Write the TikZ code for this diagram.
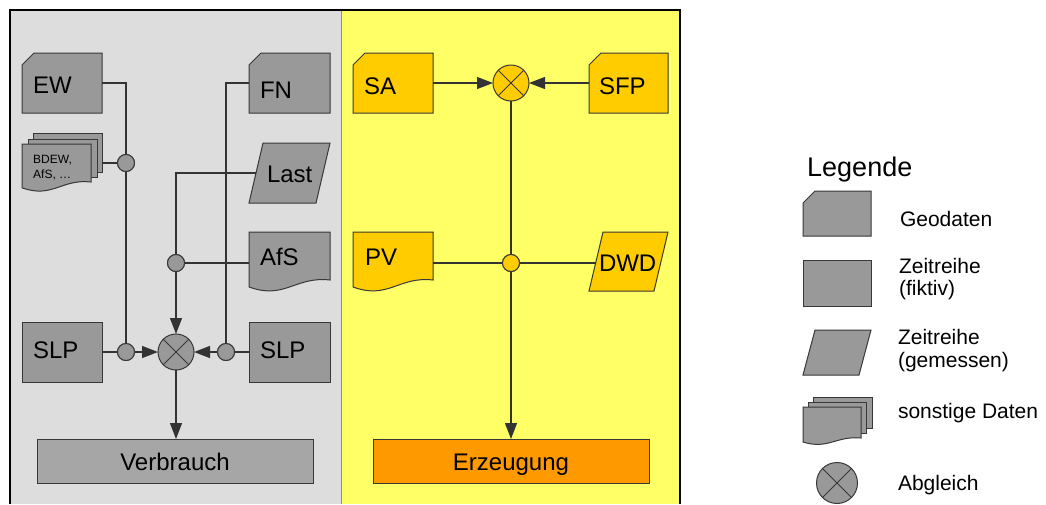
\documentclass[tikz,border=0pt]{standalone}
\usepackage{fontspec}
\setmainfont{Liberation Sans}
\usetikzlibrary{arrows.meta,calc}
\definecolor{panelgray}{HTML}{DDDDDD}
\definecolor{panelyellow}{HTML}{FFFF66}
\definecolor{shapegray}{HTML}{999999}
\definecolor{verbgray}{HTML}{A6A6A6}
\definecolor{shapeyellow}{HTML}{FFCC00}
\definecolor{erzorange}{HTML}{FF9900}
\definecolor{linecol}{HTML}{333333}
\definecolor{shapeline}{HTML}{383838}
\definecolor{sepgray}{HTML}{8C8C8C}
\newcommand{\geodata}[2]{%
  \filldraw[shp,fill=#2] (#1.south west) -- ($(#1.north west)+(0,12)$) -- ($(#1.north west)+(12,0)$) -- (#1.north east) -- (#1.south east) -- cycle;}
\newcommand{\docshape}[3]{%
  \filldraw[shp,fill=#2] (#1.north west) -- (#1.north east) -- (#1.south east)
    .. controls ($(#1.south east)!0.43!(#1.south west)+(0,-0.33*#3)$) and ($(#1.south west)!0.44!(#1.south east)+(0,1.67*#3)$) .. ($(#1.south west)+(0,0.58*#3)$) -- cycle;}
\newcommand{\paragram}[3]{%
  \filldraw[shp,fill=#2] (#1.south west) -- ($(#1.north west)+(#3,0)$) -- (#1.north east) -- ($(#1.south east)+(-#3,0)$) -- cycle;}
\begin{document}
\begin{tikzpicture}[x=1pt,y=-1pt,
  box/.style n args={2}{rectangle,inner sep=0pt,outer sep=0pt,minimum width=#1,minimum height=#2},
  shp/.style={draw=shapeline,line width=1pt},
  lbl/.style={inner sep=0pt,outer sep=0pt,anchor=base west,font=\fontsize{24}{28}\selectfont},
  lblc/.style={inner sep=0pt,outer sep=0pt,anchor=base,font=\fontsize{24}{28}\selectfont},
  leg/.style={inner sep=0pt,outer sep=0pt,anchor=base west,font=\fontsize{21}{24}\selectfont},
  conn/.style={draw=linecol,line width=1.2pt},
  arr/.style={conn,-{Triangle[length=16pt,width=12pt]}},
  junc/.style={circle,draw=shapeline,line width=1pt,minimum size=17pt,inner sep=0pt,outer sep=0pt},
  abg/.style={circle,draw=shapeline,line width=1pt,minimum size=36pt,inner sep=0pt,outer sep=0pt,
    path picture={\draw[draw=shapeline,line width=1pt]
      ($(path picture bounding box.north east)!0.1464!(path picture bounding box.south west)$) --
      ($(path picture bounding box.south west)!0.1464!(path picture bounding box.north east)$)
      ($(path picture bounding box.north west)!0.1464!(path picture bounding box.south east)$) --
      ($(path picture bounding box.south east)!0.1464!(path picture bounding box.north west)$);}},
]
\useasboundingbox (0,0) rectangle (1046,504);
\fill[white] (0,0) rectangle (1046,504);
% panels
\fill[panelgray] (10,10) rectangle (341,504);
\fill[panelyellow] (341,10) rectangle (680,504);
\draw[sepgray,line width=1.5pt] (341.5,10) -- (341.5,504);
\draw[black,line width=1.5pt] (10,504) -- (10,10) -- (680,10) -- (680,504);

% ---------- left panel shapes ----------
\node[box={80pt}{60pt}] (EW) at (62,83) {};
\geodata{EW}{shapegray}
\node[lbl] (EWt) at (33,93) {EW};

\node[box={69pt}{39pt}] (BDEWb) at (67.5,152.5) {};
\filldraw[shp,fill=shapegray] (BDEWb.north west) rectangle (BDEWb.south east);
\node[box={69pt}{38pt}] (BDEWm) at (62.5,158) {};
\filldraw[shp,fill=shapegray] (BDEWm.north west) rectangle (BDEWm.south east);
\node[box={69pt}{38pt}] (BDEW) at (56.5,163) {};
\docshape{BDEW}{shapegray}{10}
\node[inner sep=0pt,anchor=base west,font=\fontsize{12}{15}\selectfont] (BDEWt1) at (33,163) {BDEW,};
\node[inner sep=0pt,anchor=base west,font=\fontsize{12}{15}\selectfont] (BDEWt2) at (33,178) {AfS, …};

\node[box={81pt}{60pt}] (FN) at (289.5,83) {};
\geodata{FN}{shapegray}
\node[lbl] (FNt) at (260,98) {FN};

\node[box={81pt}{60pt}] (Last) at (289.5,173) {};
\paragram{Last}{shapegray}{14}
\node[lbl] (Lastt) at (267,182) {Last};
\coordinate (Lastin) at ($(Last.west)+(7,0)$);

\node[box={81pt}{48pt}] (AfS) at (289.5,256) {};
\docshape{AfS}{shapegray}{12}
\node[lbl] (AfSt) at (260,265) {AfS};

\node[box={80pt}{60pt}] (SLP1) at (62,352) {};
\filldraw[shp,fill=shapegray] (SLP1.north west) rectangle (SLP1.south east);
\node[lbl] (SLP1t) at (33,358) {SLP};

\node[box={81pt}{60pt}] (SLP2) at (289.5,352) {};
\filldraw[shp,fill=shapegray] (SLP2.north west) rectangle (SLP2.south east);
\node[lbl] (SLP2t) at (260,358) {SLP};

\node[box={276pt}{44pt},draw=shapeline,line width=1pt,fill=verbgray] (Verb) at (175,461) {};
\node[lblc] (Verbt) at (175,470) {Verbrauch};

% ---------- right panel shapes ----------
\node[box={80pt}{60pt}] (SA) at (393,83) {};
\geodata{SA}{shapeyellow}
\node[lbl] (SAt) at (364,94) {SA};

\node[box={79pt}{60pt}] (SFP) at (628.5,83) {};
\geodata{SFP}{shapeyellow}
\node[lbl] (SFPt) at (599,94) {SFP};

\node[box={80pt}{48pt}] (PV) at (393,256) {};
\docshape{PV}{shapeyellow}{12}
\node[lbl] (PVt) at (365,265) {PV};

\node[box={79pt}{59pt}] (DWD) at (628.5,261.5) {};
\paragram{DWD}{shapeyellow}{14}
\node[lbl] (DWDt) at (599,271) {DWD};
\coordinate (DWDin) at ($(DWD.west)+(7,0)$);

\node[box={276pt}{44pt},draw=shapeline,line width=1pt,fill=erzorange] (Erz) at (511,461) {};
\node[lblc] (Erzt) at (511,470) {Erzeugung};

% ---------- junctions (placed before connectors, drawn again on top) ----------
\node[junc,fill=shapegray] (J1) at (126,163) {};
\node[junc,fill=shapegray] (J2) at (126,352) {};
\node[junc,fill=shapegray] (J3) at (176,263) {};
\node[junc,fill=shapegray] (J4) at (226,352) {};
\node[abg,fill=shapegray] (A1) at (176,352) {};
\node[abg,fill=shapeyellow] (A2) at (511,83) {};
\node[junc,fill=shapeyellow] (J5) at (511,263) {};

% ---------- connectors ----------
\draw[conn] (EW.east) -| (J1);
\draw[conn] (J1) -- (J1 -| BDEWb.east);
\draw[conn] (J1) -- (J2);
\draw[conn] (SLP1.east) -- (J2);
\draw[arr] (J2) -- (A1);
\draw[conn] (FN.west) -| (J4);
\draw[conn] (SLP2.west) -- (J4);
\draw[arr] (J4) -- (A1);
\draw[conn] (Lastin) -| (J3);
\draw[conn] (J3) -- (J3 -| AfS.west);
\draw[arr] (J3) -- (A1);
\draw[arr] (A1) -- (A1 |- Verb.north);

\draw[arr] (SA) -- (A2);
\draw[arr] (SFP) -- (A2);
\draw[conn] (A2) -- (J5);
\draw[conn] (J5) -- (J5 -| PV.east);
\draw[conn] (J5) -- (J5 -| DWDin);
\draw[arr] (J5) -- (Erz);

% junctions on top of lines
\node[junc,fill=shapegray] (J1b) at (J1) {};
\node[junc,fill=shapegray] (J2b) at (J2) {};
\node[junc,fill=shapegray] (J3b) at (J3) {};
\node[junc,fill=shapegray] (J4b) at (J4) {};
\node[junc,fill=shapeyellow] (J5b) at (J5) {};

% ---------- legend ----------
\node[inner sep=0pt,anchor=base west,font=\fontsize{27}{30}\selectfont] (LegT) at (807,176) {Legende};

\node[box={68pt}{45pt}] (LGeo) at (837,213.5) {};
\geodata{LGeo}{shapegray}
\node[leg] (LGeot) at (900,226) {Geodaten};

\node[box={68pt}{46pt}] (LRect) at (837,283) {};
\filldraw[shp,fill=shapegray] (LRect.north west) rectangle (LRect.south east);
\node[leg] (LRectt1) at (899,273) {Zeitreihe};
\node[leg] (LRectt2) at (899,295) {(fiktiv)};

\node[box={68pt}{45pt}] (LPara) at (837,352.5) {};
\paragram{LPara}{shapegray}{12}
\node[leg] (LParat1) at (898,344) {Zeitreihe};
\node[leg] (LParat2) at (898,367) {(gemessen)};

\node[box={59pt}{31pt}] (LStb) at (842.5,412.5) {};
\filldraw[shp,fill=shapegray] (LStb.north west) rectangle (LStb.south east);
\node[box={58pt}{31pt}] (LStm) at (837,417.5) {};
\filldraw[shp,fill=shapegray] (LStm.north west) rectangle (LStm.south east);
\node[box={58pt}{31pt}] (LSt) at (832,422.5) {};
\docshape{LSt}{shapegray}{7}
\node[leg] (LStt) at (898,418) {sonstige Daten};

\node[abg,fill=shapegray,minimum size=41pt] (LAbg) at (837,483) {};
\node[leg] (LAbgt) at (898,490) {Abgleich};
\end{tikzpicture}
\end{document}
